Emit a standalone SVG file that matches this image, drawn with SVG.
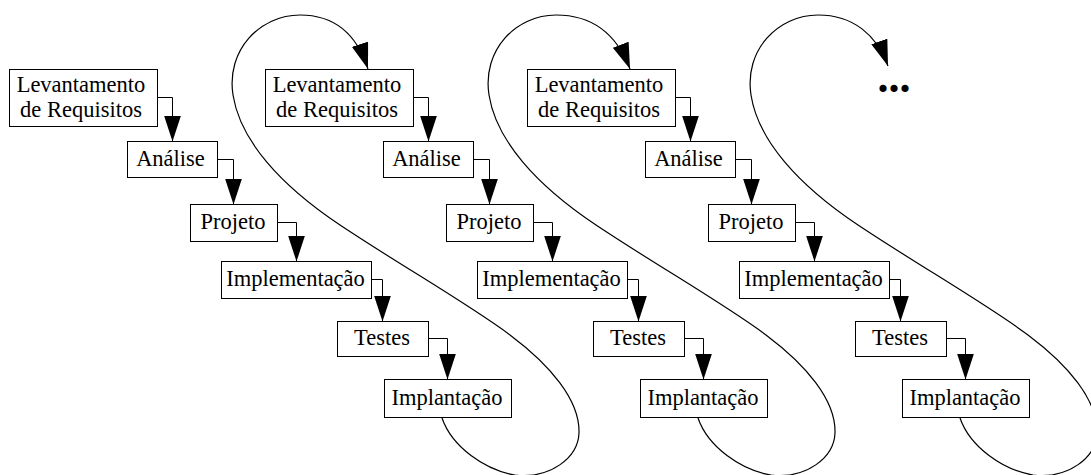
<svg xmlns="http://www.w3.org/2000/svg" width="1091" height="475" viewBox="0 0 1091 475">
<style>
.box{fill:#fff;stroke:#000;stroke-width:1;shape-rendering:crispEdges}
.t{font-family:"Liberation Serif","Times New Roman",serif;font-size:22.5px;fill:#000;text-anchor:middle}
.c{fill:none;stroke:#000;stroke-width:1;marker-end:url(#arr)}
.loop{fill:none;stroke:#000;stroke-width:1.2;marker-end:url(#arr)}
</style>
<defs>
<marker id="arr" markerUnits="userSpaceOnUse" markerWidth="26" markerHeight="17" viewBox="0 0 26 17" refX="26" refY="8.5" orient="auto">
<path d="M0,0 L26,8.5 L0,17 z" fill="#000"/>
</marker>
</defs>
<rect width="1091" height="475" fill="#fff"/>
<g id="connectors">
<polyline class="c" points="157.5,97.5 172.5,97.5 172.5,141.5"/>
<polyline class="c" points="217.5,159.5 233.5,159.5 233.5,204.5"/>
<polyline class="c" points="277.5,222.5 296.5,222.5 296.5,261.5"/>
<polyline class="c" points="371.5,279.5 382.5,279.5 382.5,321.5"/>
<polyline class="c" points="428.5,338.5 447.5,338.5 447.5,379.5"/>
<polyline class="c" points="413.5,97.5 428.5,97.5 428.5,141.5"/>
<polyline class="c" points="473.5,159.5 489.5,159.5 489.5,204.5"/>
<polyline class="c" points="533.5,222.5 552.5,222.5 552.5,261.5"/>
<polyline class="c" points="627.5,279.5 638.5,279.5 638.5,321.5"/>
<polyline class="c" points="684.5,338.5 703.5,338.5 703.5,379.5"/>
<polyline class="c" points="675.5,97.5 690.5,97.5 690.5,141.5"/>
<polyline class="c" points="735.5,159.5 751.5,159.5 751.5,204.5"/>
<polyline class="c" points="795.5,222.5 814.5,222.5 814.5,261.5"/>
<polyline class="c" points="889.5,279.5 900.5,279.5 900.5,321.5"/>
<polyline class="c" points="946.5,338.5 965.5,338.5 965.5,379.5"/>
<path class="loop" d="M442,418 C452,447 485,470 515,475 C550,479 578,458 579,433 C580,400 550,365 510,335 C470,305 400,265 340,225 C280,185 240,140 233,95 C226,50 260,15 300,15 C335,15 357,35 368,69"/>
<path class="loop" d="M698,418 C708,447 741,470 771,475 C806,479 834,458 835,433 C836,400 806,365 766,335 C726,305 656,265 596,225 C536,185 496,140 489,95 C482,50 516,15 556,15 C593,15 617,35 630,69"/>
<path class="loop" d="M960,418 C970,447 1003,470 1033,475 C1068,479 1096,458 1097,433 C1098,400 1068,365 1028,335 C988,305 918,265 858,225 C798,185 758,140 751,95 C744,50 778,15 818,15 C853,15 877,35 888,66"/>
</g>
<g id="lev1"><rect class="box" x="9.5" y="69.5" width="148" height="57"/><text class="t" x="81" y="92">Levantamento</text><text class="t" x="81" y="117">de Requisitos</text></g>
<g id="ana1"><rect class="box" x="127.5" y="141.5" width="90" height="36"/><text class="t" x="170.5" y="165.5">Análise</text></g>
<g id="proj1"><rect class="box" x="190.5" y="204.5" width="87" height="37"/><text class="t" x="233" y="229">Projeto</text></g>
<g id="impl1"><rect class="box" x="221.5" y="261.5" width="150" height="37"/><text class="t" x="295.5" y="286">Implementação</text></g>
<g id="test1"><rect class="box" x="337.5" y="321.5" width="91" height="35"/><text class="t" x="382" y="345">Testes</text></g>
<g id="impa1"><rect class="box" x="384.5" y="379.5" width="127" height="38"/><text class="t" x="447" y="404.5">Implantação</text></g>
<g id="lev2"><rect class="box" x="265.5" y="69.5" width="148" height="57"/><text class="t" x="337" y="92">Levantamento</text><text class="t" x="337" y="117">de Requisitos</text></g>
<g id="ana2"><rect class="box" x="383.5" y="141.5" width="90" height="36"/><text class="t" x="426.5" y="165.5">Análise</text></g>
<g id="proj2"><rect class="box" x="446.5" y="204.5" width="87" height="37"/><text class="t" x="489" y="229">Projeto</text></g>
<g id="impl2"><rect class="box" x="477.5" y="261.5" width="150" height="37"/><text class="t" x="551.5" y="286">Implementação</text></g>
<g id="test2"><rect class="box" x="593.5" y="321.5" width="91" height="35"/><text class="t" x="638" y="345">Testes</text></g>
<g id="impa2"><rect class="box" x="640.5" y="379.5" width="127" height="38"/><text class="t" x="703" y="404.5">Implantação</text></g>
<g id="lev3"><rect class="box" x="527.5" y="69.5" width="148" height="57"/><text class="t" x="599" y="92">Levantamento</text><text class="t" x="599" y="117">de Requisitos</text></g>
<g id="ana3"><rect class="box" x="645.5" y="141.5" width="90" height="36"/><text class="t" x="688.5" y="165.5">Análise</text></g>
<g id="proj3"><rect class="box" x="708.5" y="204.5" width="87" height="37"/><text class="t" x="751" y="229">Projeto</text></g>
<g id="impl3"><rect class="box" x="739.5" y="261.5" width="150" height="37"/><text class="t" x="813.5" y="286">Implementação</text></g>
<g id="test3"><rect class="box" x="855.5" y="321.5" width="91" height="35"/><text class="t" x="900" y="345">Testes</text></g>
<g id="impa3"><rect class="box" x="902.5" y="379.5" width="127" height="38"/><text class="t" x="965" y="404.5">Implantação</text></g>
<g id="etc"><text x="894" y="92" style="font-family:'Liberation Serif',serif;font-size:44px;font-weight:bold;text-anchor:middle;fill:#000">...</text></g>
</svg>
